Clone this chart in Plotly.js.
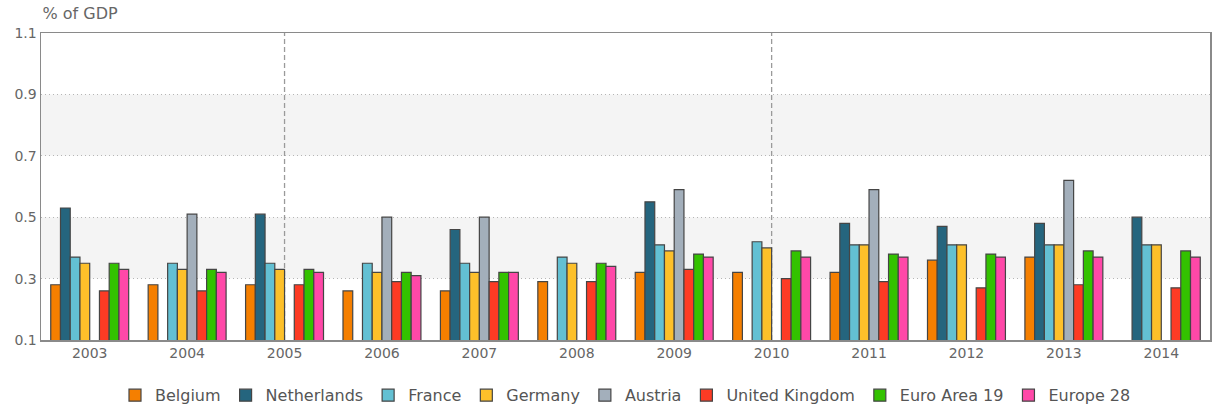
<!DOCTYPE html>
<html>
<head>
<meta charset="utf-8">
<script src="https://cdn.plot.ly/plotly-3.0.1.min.js"></script>
<style>html,body{margin:0;padding:0;background:#fff;}#chart{width:1213px;height:409px;}</style>
</head>
<body>
<div id="chart"></div>
<script>
const years = ['2003','2004','2005','2006','2007','2008','2009','2010','2011','2012','2013','2014'];
const belgium       = [0.28, 0.28, 0.28, 0.26, 0.26, 0.29, 0.32, 0.32, 0.32, 0.36, 0.37, null];
const netherlands   = [0.53, null, 0.51, null, 0.46, null, 0.55, null, 0.48, 0.47, 0.48, 0.50];
const france        = [0.37, 0.35, 0.35, 0.35, 0.35, 0.37, 0.41, 0.42, 0.41, 0.41, 0.41, 0.41];
const germany       = [0.35, 0.33, 0.33, 0.32, 0.32, 0.35, 0.39, 0.40, 0.41, 0.41, 0.41, 0.41];
const austria       = [null, 0.51, null, 0.50, 0.50, null, 0.59, null, 0.59, null, 0.62, null];
const unitedKingdom = [0.26, 0.26, 0.28, 0.29, 0.29, 0.29, 0.33, 0.30, 0.29, 0.27, 0.28, 0.27];
const euroArea19    = [0.35, 0.33, 0.33, 0.32, 0.32, 0.35, 0.38, 0.39, 0.38, 0.38, 0.39, 0.39];
const europe28      = [0.33, 0.32, 0.32, 0.31, 0.32, 0.34, 0.37, 0.37, 0.37, 0.37, 0.37, 0.37];
const seriesNames   = ['Belgium','Netherlands','France','Germany','Austria','United Kingdom','Euro Area 19','Europe 28'];
const seriesValues  = [belgium, netherlands, france, germany, austria, unitedKingdom, euroArea19, europe28];
const seriesColors  = ['#f57f00','#25657e','#63c0d3','#fdc02a','#a3afbb','#fd3b24','#33c200','#ff48a8'];
const yTicks = [0.1, 0.3, 0.5, 0.7, 0.9, 1.1];
const markerYears = ['2005','2010'];
const bands = [[0.3,0.5],[0.7,0.9]];

const FONT = 'DejaVu Sans, Verdana, sans-serif';

const traces = seriesNames.map((n,i)=>({
  type:'bar', name:n, x:years, y:seriesValues[i],
  marker:{color:seriesColors[i], line:{color:'#454545', width:1.2}},
  hoverinfo:'x+y+name'
}));

const shapes = [];
bands.forEach(b=>shapes.push({type:'rect', xref:'paper', yref:'y', x0:0, x1:1, y0:b[0], y1:b[1],
  fillcolor:'#f4f4f4', line:{width:0}, layer:'below'}));
markerYears.forEach(yr=>{
  const idx = years.indexOf(yr);
  shapes.push({type:'line', xref:'x', yref:'paper', x0:idx, x1:idx, y0:0, y1:1,
    line:{color:'#9a9a9a', width:1.3, dash:'5px,3px'}, layer:'below'});
});

const layout = {
  width:1213, height:409,
  margin:{l:41, r:3, t:33, b:69, autoexpand:false},
  paper_bgcolor:'#fff', plot_bgcolor:'rgba(0,0,0,0)',
  barmode:'group', bargap:0.2, bargroupgap:0,
  font:{family:FONT, color:'#666', size:14},
  title:{text:'% of GDP', x:0.035, xref:'container', xanchor:'left', y:0.968, yref:'container', yanchor:'middle',
    font:{family:FONT, size:16, color:'#666'}},
  xaxis:{type:'category', range:[-0.5, years.length-0.5], showline:true, mirror:true, linecolor:'#8a8a8a', linewidth:1.5,
    ticks:'', showgrid:false, tickfont:{size:14, color:'#666'}, fixedrange:true},
  yaxis:{range:[0.1,1.1], tickvals:yTicks, ticktext:yTicks.map(v=>v.toFixed(1)),
    showline:true, mirror:true, linecolor:'#8a8a8a', linewidth:1.5,
    showgrid:true, gridcolor:'#b5b5b5', griddash:'1px,3px', gridwidth:1, zeroline:false,
    ticks:'', tickfont:{size:14, color:'#666'}, fixedrange:true},
  showlegend:true,
  legend:{orientation:'h', x:0.5, xanchor:'center', y:-0.18, yanchor:'middle',
    font:{family:FONT, size:16, color:'#555'}, traceorder:'normal'},
  shapes:shapes
};

Plotly.newPlot('chart', traces, layout, {displayModeBar:false, staticPlot:true});
</script>
</body>
</html>
